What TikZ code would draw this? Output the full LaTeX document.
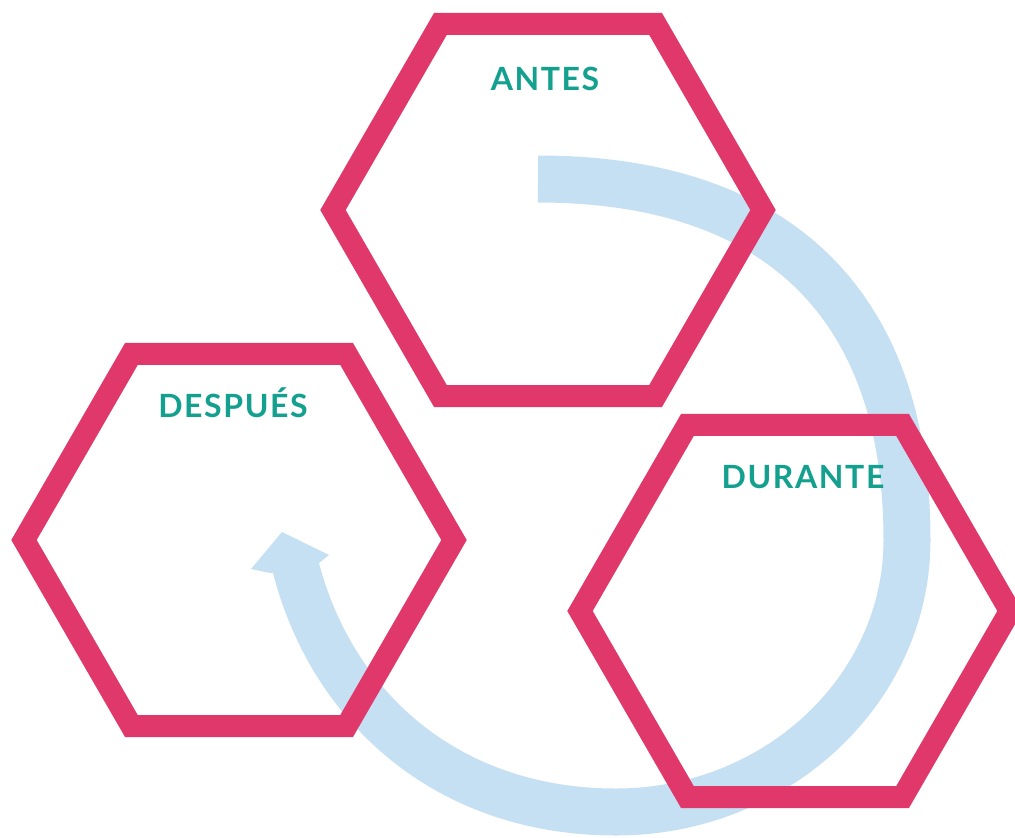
\documentclass[tikz,border=0pt]{standalone}
\usepackage{fontspec}
\newfontfamily\hexfont{Lato}[LetterSpace=5]
\usetikzlibrary{calc}
\definecolor{hexpink}{HTML}{E0386B}
\definecolor{hexteal}{HTML}{13A08F}
\definecolor{cycleblue}{HTML}{C5E0F2}
\begin{document}
\begin{tikzpicture}[x=1pt,y=-1pt,
  hexline/.style={draw=hexpink, line width=22pt, line join=miter},
  hexlabel/.style={text=hexteal, font=\hexfont\bfseries\fontsize{32}{32}\selectfont, anchor=base, inner sep=0pt},
  cycleband/.style={draw=cycleblue, line width=47pt, line cap=butt},
  cyclehead/.style={fill=cycleblue, draw=none}]
\useasboundingbox (0,0) rectangle (1015,838);
\fill[white] (0,0) rectangle (1015,838);
% centres of the three hexagons
\coordinate (cA) at (548,210);
\coordinate (cB) at (239,540);
\coordinate (cC) at (795,611);
% cyclic arrow (behind)
\coordinate (tail) at (538,179);
\coordinate (east) at (907,540);
\coordinate (south) at (616,812);
\coordinate (headbase) at (294,560);
\draw[cycleband] (tail)
  .. controls (778,179) and (907,305) .. (east)
  .. controls (907,690) and (776,812) .. (south)
  .. controls (446,812) and (328.5,705.5) .. (headbase);
\fill[cyclehead] (251,569) -- (282,532) -- (329,555) -- (314,567) -- (270,573) -- cycle;
% hexagons
\foreach \c in {cA,cB,cC}{
  \draw[hexline] (\c) +(0:215) -- +(60:215) -- +(120:215) -- +(180:215)
    -- +(240:215) -- +(300:215) -- cycle;
}
% labels
\node[hexlabel] (antes) at (545,90) {ANTES};
\node[hexlabel] (despues) at (233,417) {DESPUÉS};
\node[hexlabel] (durante) at (803,488) {DURANTE};
\end{tikzpicture}
\end{document}
